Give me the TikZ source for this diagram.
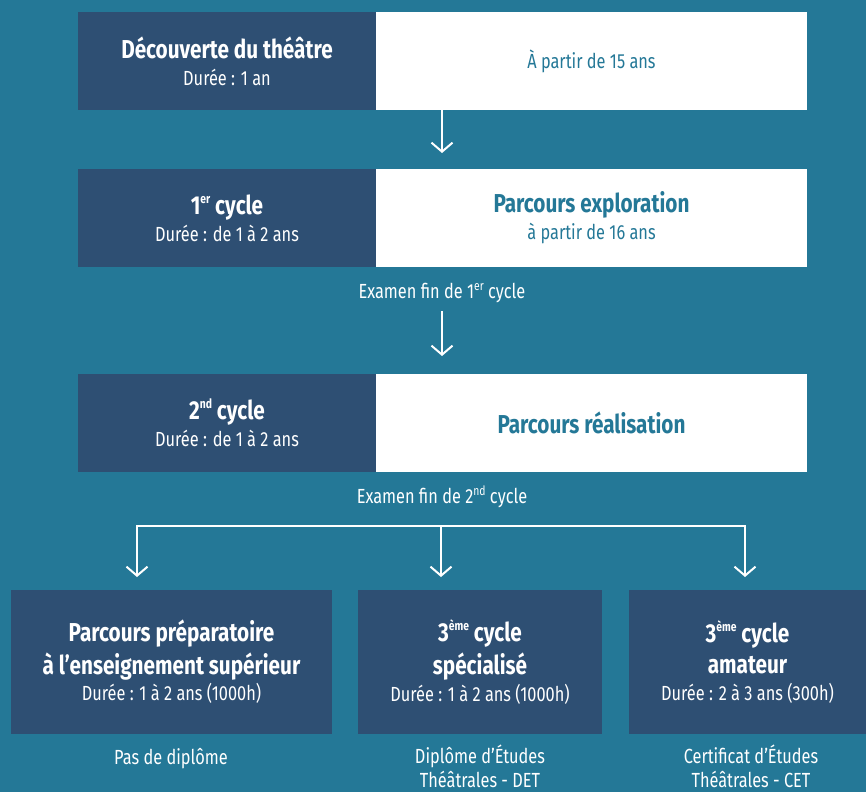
\documentclass[tikz,border=0pt]{standalone}
\usepackage{fontspec}
\setmainfont{Fira Sans}[FakeStretch=0.8]
\usetikzlibrary{arrows.meta}
\definecolor{bgteal}{HTML}{247897}
\definecolor{darkbox}{HTML}{2E4F73}
\newcommand{\titf}{\fontsize{26}{27}\selectfont\bfseries}
\newcommand{\subf}{\fontsize{20.5}{27}\selectfont\mdseries}
\newcommand{\sups}[1]{\raisebox{0.42em}{\fontsize{13}{13}\selectfont #1}}
\tikzset{
  darkcell/.style={fill=darkbox, text=white, inner sep=0pt, align=center, font=\subf},
  whitecell/.style={fill=white, text=bgteal, inner sep=0pt, align=center, font=\subf},
  lbl/.style={text=white, inner sep=0pt, align=center, font=\subf},
  arr/.style={draw=white, line width=2bp, -{Straight Barb[length=9bp,width=21bp,line width=2bp]}},
  arrtwo/.style={draw=white, line width=2bp, {Straight Barb[length=9bp,width=21bp,line width=2bp]}-{Straight Barb[length=9bp,width=21bp,line width=2bp]}},
}
\begin{document}
\begin{tikzpicture}[x=1bp,y=-1bp]
\fill[bgteal] (0,0) rectangle (866,792);
\useasboundingbox (0,0) rectangle (866,792);
\clip (0,0) rectangle (866,792);
% row 1
\node[darkcell, minimum width=298bp, minimum height=98bp] (d1) at (227,61) {{\titf Découverte du théâtre}\\Durée : 1 an};
\node[whitecell, minimum width=431bp, minimum height=98bp] (w1) at (591.5,61) {À partir de 15 ans};
% row 2
\node[darkcell, minimum width=298bp, minimum height=98bp] (d2) at (227,218) {{\titf 1\sups{er} cycle}\\Durée : de 1 à 2 ans};
\node[whitecell, minimum width=431bp, minimum height=98bp] (w2) at (591.5,218) {{\titf Parcours exploration}\\à partir de 16 ans};
\node[lbl] (e1) at (442,293) {Examen fin de 1\sups{er} cycle};
% row 3
\node[darkcell, minimum width=298bp, minimum height=98bp] (d3) at (227,423) {{\titf 2\sups{nd} cycle}\\Durée : de 1 à 2 ans};
\node[whitecell, minimum width=431bp, minimum height=98bp] (w3) at (591.5,423) {\titf Parcours réalisation};
\node[lbl] (e2) at (442,497) {Examen fin de 2\sups{nd} cycle};
% bottom boxes
\node[darkcell, minimum width=321bp, minimum height=144bp] (b1) at (171.5,662) {{\titf Parcours préparatoire}\\[4bp]{\titf à l’enseignement supérieur}\\Durée : 1 à 2 ans (1000h)};
\node[darkcell, minimum width=244bp, minimum height=144bp] (b2) at (480,662) {{\titf 3\sups{ème} cycle}\\[4bp]{\titf spécialisé}\\Durée : 1 à 2 ans (1000h)};
\node[darkcell, minimum width=237bp, minimum height=144bp] (b3) at (747.5,662) {{\titf 3\sups{ème} cycle}\\[4bp]{\titf amateur}\\Durée : 2 à 3 ans (300h)};
\node[lbl] (n1) at (171,759) {Pas de diplôme};
\node[lbl, anchor=north, font=\fontsize{20.5}{24}\selectfont] (n2) at (480,745) {Diplôme d’Études\\Théâtrales - DET};
\node[lbl, anchor=north, font=\fontsize{20.5}{24}\selectfont] (n3) at (751,745) {Certificat d’Études\\Théâtrales - CET};
% connectors
\coordinate (a1s) at (442,110);
\coordinate (a1e) at (442,153);
\coordinate (a2s) at (442,311);
\coordinate (a2e) at (442,356);
\coordinate (hl) at (137,526);
\coordinate (hm) at (441,526);
\coordinate (hr) at (745,526);
\coordinate (t1) at (137,577);
\coordinate (t2) at (441,577);
\coordinate (t3) at (745,577);
\draw[arr] (a1s) -- (a1e);
\draw[arr] (a2s) -- (a2e);
\draw[arrtwo] (t1) -- (hl) -- (hr) -- (t3);
\draw[arr] (hm) -- (t2);
\end{tikzpicture}
\end{document}
